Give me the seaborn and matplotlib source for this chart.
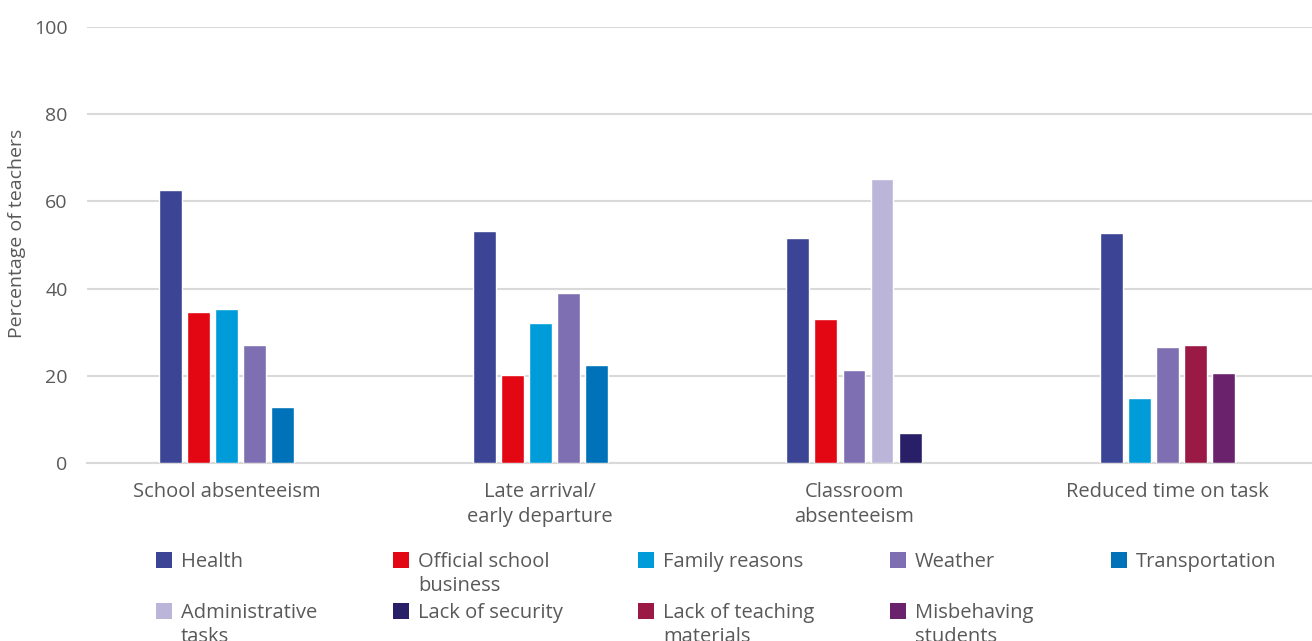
import numpy as np
import pandas as pd
import matplotlib
matplotlib.use("Agg")
import matplotlib.pyplot as plt
from matplotlib.patches import Rectangle
import seaborn as sns

# ---- data ----
groups = ["School absenteeism", "Late arrival/\nearly departure",
          "Classroom\nabsenteeism", "Reduced time on task"]
reasons = ["Health", "Official school\nbusiness", "Family reasons", "Weather",
           "Transportation", "Administrative\ntasks", "Lack of security",
           "Lack of teaching\nmaterials", "Misbehaving\nstudents"]
colors = ["#3C4595", "#E30613", "#009CDA", "#7E6FB2", "#0072B9",
          "#BBB5DA", "#291E68", "#9B1A45", "#6A226D"]
nan = np.nan
health       = [62.6, 53.2, 51.6, 52.8]
official     = [34.6, 20.2, 33.0, nan]
family       = [35.3, 32.1, nan, 14.9]
weather      = [27.1, 39.0, 21.3, 26.6]
transport    = [12.8, 22.5, nan, nan]
admin        = [nan, nan, 65.1, nan]
security     = [nan, nan, 6.9, nan]
teaching     = [nan, nan, nan, 27.1]
misbehaving  = [nan, nan, nan, 20.6]
series = [health, official, family, weather, transport, admin, security,
          teaching, misbehaving]

# ---- build long table with compact per-group positions ----
pitch = 0.0893
rows = []
for gi, g in enumerate(groups):
    present = [ri for ri in range(len(reasons)) if not np.isnan(series[ri][gi])]
    n = len(present)
    for k, ri in enumerate(present):
        rows.append({"pos": gi + (k - (n - 1) / 2) * pitch,
                     "reason": reasons[ri], "value": series[ri][gi]})
df = pd.DataFrame(rows)

sns.set_theme(style="white")
plt.rcParams["font.family"] = ["Open Sans", "DejaVu Sans"]
text_color = "#595959"

W, H = 1312, 641
fig = plt.figure(figsize=(W / 100, H / 100), dpi=100)
ax = fig.add_axes([87 / W, (H - 463) / H, 1 - 87 / W, (463 - 27) / H])

palette = dict(zip(reasons, colors))
sns.barplot(data=df, x="pos", y="value", hue="reason", hue_order=reasons,
            palette=palette, native_scale=True, dodge=False, width=0.82,
            errorbar=None, legend=False, saturation=1, ax=ax, zorder=3)

ax.set_xlim(-0.445, 3.46)
ax.set_ylim(0, 100)
ax.set_yticks(range(0, 101, 20))
ax.set_xticks(range(len(groups)))
ax.set_xticklabels(groups, linespacing=1.3)
ax.yaxis.grid(True, color="#d9d9d9", linewidth=1.5, zorder=0)
ax.xaxis.grid(False)
for s in ["top", "right", "left"]:
    ax.spines[s].set_visible(False)
ax.spines["bottom"].set_color("#d9d9d9")
ax.spines["bottom"].set_linewidth(1.5)
ax.tick_params(axis="x", length=0, labelsize=14.5, colors=text_color, pad=14)
ax.tick_params(axis="y", length=0, labelsize=14, colors=text_color, pad=14)
ax.set_xlabel("")
ax.set_ylabel("Percentage of teachers", fontsize=14, color=text_color)
ax.yaxis.set_label_coords((26 - 87) / 1225, (463 - 233.5) / 436)

# ---- legend (row-major, 5 columns) ----
col_x = [156, 393, 638, 890, 1111]
row_top = [552, 603]
sq = 16
for i, (lab, c) in enumerate(zip(reasons, colors)):
    r, k = divmod(i, 5)
    x0, y0 = col_x[k], row_top[r]
    fig.add_artist(Rectangle((x0 / W, (H - y0 - sq) / H), sq / W, sq / H,
                             transform=fig.transFigure, facecolor=c,
                             edgecolor="none"))
    fig.text((x0 + 25) / W, (H - y0) / H, lab, ha="left", va="top",
             fontsize=14.5, color=text_color, linespacing=1.25)

fig.savefig("out.png", dpi=100)
